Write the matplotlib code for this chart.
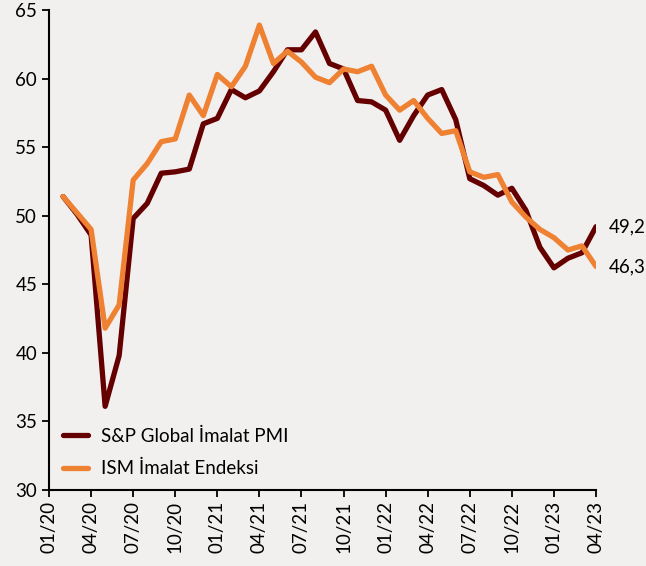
import matplotlib
matplotlib.use('Agg')
import matplotlib.pyplot as plt

# month index: 0 = 01/20, data starts at 02/20
tick_labels = ['01/20', '04/20', '07/20', '10/20', '01/21', '04/21', '07/21',
               '10/21', '01/22', '04/22', '07/22', '10/22', '01/23', '04/23']

sp_pmi = [51.4, 50.1, 48.6, 36.1, 39.8, 49.8, 50.9, 53.1, 53.2, 53.4, 56.7, 57.1,
          59.2, 58.6, 59.1, 60.5, 62.1, 62.1, 63.4, 61.1, 60.7, 58.4, 58.3, 57.7,
          55.5, 57.3, 58.8, 59.2, 57.0, 52.7, 52.2, 51.5, 52.0, 50.4, 47.7, 46.2,
          46.9, 47.3, 49.2]
ism = [51.4, 50.2, 49.0, 41.8, 43.5, 52.6, 53.8, 55.4, 55.6, 58.8, 57.3, 60.3,
       59.4, 60.9, 63.9, 61.1, 62.0, 61.2, 60.1, 59.7, 60.7, 60.5, 60.9, 58.8,
       57.7, 58.4, 57.1, 56.0, 56.2, 53.2, 52.8, 53.0, 51.0, 49.9, 49.0, 48.4,
       47.5, 47.8, 46.3]

months = list(range(1, len(sp_pmi) + 1))
bg = '#f2f0ef'
dark = '#650000'
orange = '#ef8132'

plt.rcParams['font.family'] = ['Lato', 'DejaVu Sans']

fig = plt.figure(figsize=(6.46, 5.66), dpi=100, facecolor=bg)
ax = fig.add_axes([0.0759, 0.1343, 0.8467, 0.848])
ax.set_facecolor(bg)

ax.plot(months, sp_pmi, color=dark, lw=3.8, solid_joinstyle='round',
        solid_capstyle='round', label='S&P Global İmalat PMI')
ax.plot(months, ism, color=orange, lw=3.8, solid_joinstyle='round',
        solid_capstyle='round', label='ISM İmalat Endeksi')

ax.text(months[-1] + 0.9, sp_pmi[-1], f'{sp_pmi[-1]:.1f}'.replace('.', ','),
        va='center', ha='left', fontsize=13.5, clip_on=False)
ax.text(months[-1] + 0.9, ism[-1], f'{ism[-1]:.1f}'.replace('.', ','),
        va='center', ha='left', fontsize=13.5, clip_on=False)

ax.set_xlim(0, 39)
ax.set_ylim(30, 65)
ax.set_yticks(range(30, 66, 5))
ax.set_xticks(range(0, 40, 3))
ax.set_xticklabels(tick_labels, rotation=90)
ax.tick_params(axis='both', labelsize=13.5, length=5, width=1.3, color='black')
ax.tick_params(axis='x', pad=3)
for s in ['top', 'right']:
    ax.spines[s].set_visible(False)
for s in ['left', 'bottom']:
    ax.spines[s].set_linewidth(1.5)

ax.legend(loc='lower left', bbox_to_anchor=(-0.005, -0.009), frameon=False,
          fontsize=13.5, handlelength=1.3, handletextpad=0.7, labelspacing=0.82)

fig.savefig('out.png', dpi=100, facecolor=bg)
